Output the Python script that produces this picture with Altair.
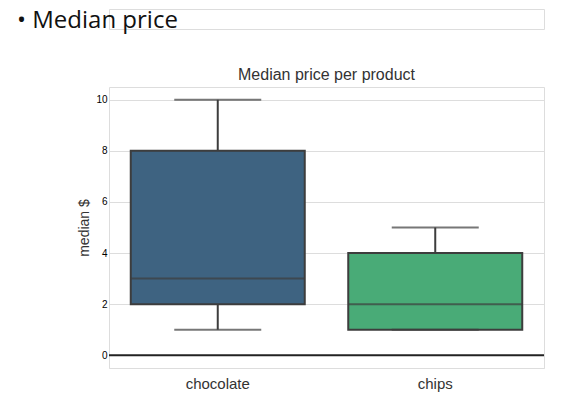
import altair as alt
import pandas as pd

products = ["chocolate", "chips"]
mins = [1, 1]
q1s = [2, 1]
medians = [3, 2]
q3s = [8, 4]
maxs = [10, 5]
colors = ["#3e6381", "#49ab77"]

df = pd.DataFrame({"product": products, "lo": mins, "q1": q1s,
                   "med": medians, "q3": q3s, "hi": maxs})

xs = alt.X("product:N", sort=products, title=None,
           scale=alt.Scale(paddingInner=0.2, paddingOuter=0.1),
           axis=alt.Axis(labelAngle=0, labelFontSize=15, labelColor="#333",
                         ticks=False, domain=True, domainColor="#dddddd",
                         labelPadding=8))
ys = alt.Scale(domain=[-0.5, 10.5], nice=False)
edge = "#3d3d3d"

base = alt.Chart(df)
whisk = base.mark_rule(color=edge, strokeWidth=2).encode(
    x=xs, y=alt.Y("lo:Q", scale=ys, title="median $",
                  axis=alt.Axis(values=[0, 2, 4, 6, 8, 10], labelFontSize=10,
                                titleFontSize=14, titleFontWeight="normal",
                                titleColor="#333", ticks=False, domain=False,
                                gridColor="#dddddd")),
    y2="hi:Q")
box = base.mark_bar(stroke=edge, strokeWidth=2).encode(
    x=xs, y=alt.Y("q1:Q", scale=ys), y2="q3:Q",
    color=alt.Color("product:N", scale=alt.Scale(domain=products, range=colors),
                    legend=None))
med = base.mark_tick(color=edge, thickness=2, size=174, orient="horizontal").encode(
    x=xs, y=alt.Y("med:Q", scale=ys))
caps_lo = base.mark_tick(color=edge, thickness=2, size=87, orient="horizontal").encode(
    x=xs, y=alt.Y("lo:Q", scale=ys))
caps_hi = base.mark_tick(color=edge, thickness=2, size=87, orient="horizontal").encode(
    x=xs, y=alt.Y("hi:Q", scale=ys))
zero = alt.Chart(pd.DataFrame({"z": [0]})).mark_rule(color="#222", strokeWidth=2).encode(
    y=alt.Y("z:Q", scale=ys))

plot = alt.layer(whisk, box, med, caps_lo, caps_hi, zero).properties(
    width=435, height=281,
    title=alt.TitleParams("Median price per product", fontSize=16,
                          fontWeight="normal", color="#333"))

header = alt.Chart(pd.DataFrame({"t": ["•  Median price"]})).mark_text(
    align="left", baseline="middle", fontSize=24, color="#111", font="Open Sans",
    clip=False
).encode(text="t:N", x=alt.value(-92), y=alt.value(12)).properties(width=435, height=20)

chart = alt.vconcat(header, plot, spacing=32).configure_view(
    stroke=None).configure(font="Liberation Sans").properties(
    padding={"left": 8, "top": 0, "right": 5, "bottom": 5})

chart.save("out.html", embed_options={"renderer": "svg", "actions": False})
